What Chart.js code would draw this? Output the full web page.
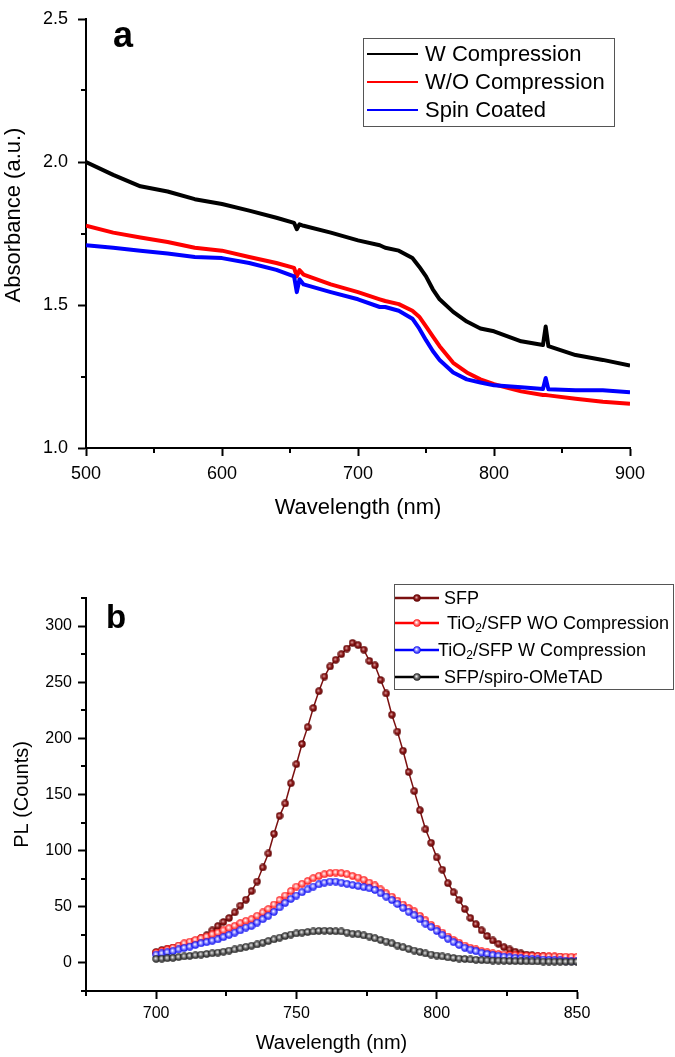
<!DOCTYPE html>
<html><head><meta charset="utf-8">
<script src="https://cdn.jsdelivr.net/npm/chart.js@4"></script>
<style>html,body{margin:0;padding:0;background:#fff;}canvas{display:block;}</style>
</head><body>
<canvas id="c1" width="675" height="530"></canvas>
<canvas id="c2" width="675" height="527"></canvas>
<script>
// ---------- Panel a : absorbance ----------
const absWavelength = [500,520,540,560,580,600,620,640,653,655,657,660,680,700,716,720,730,740,745,750,755,760,770,780,790,800,820,836,838,840,860,880,900];
const absWCompression = [2.00,1.955,1.915,1.897,1.87,1.853,1.83,1.805,1.787,1.765,1.782,1.777,1.753,1.726,1.709,1.70,1.69,1.664,1.634,1.60,1.555,1.52,1.476,1.442,1.418,1.408,1.373,1.36,1.425,1.356,1.325,1.308,1.288];
const absWOCompression = [1.777,1.753,1.736,1.72,1.70,1.69,1.668,1.647,1.63,1.60,1.622,1.606,1.572,1.545,1.52,1.514,1.503,1.48,1.459,1.425,1.39,1.356,1.298,1.264,1.24,1.223,1.198,1.185,1.185,1.184,1.172,1.162,1.155];
const absSpinCoated = [1.709,1.70,1.69,1.68,1.668,1.664,1.647,1.623,1.60,1.545,1.59,1.572,1.545,1.52,1.493,1.493,1.48,1.452,1.418,1.377,1.339,1.308,1.264,1.24,1.229,1.219,1.212,1.206,1.245,1.205,1.202,1.202,1.195];
const absLabels = ['W Compression','W/O Compression','Spin Coated'];
const absXTicks = [500,600,700,800,900];
const absXMinor = [550,650,750,850];
const absYTicks = [1.0,1.5,2.0,2.5];
const absYMinor = [1.25,1.75,2.25];

// ---------- Panel b : photoluminescence ----------
const plWavelength = [700,702,704,706,708,710,712,714,716,718,720,722,724,726,728,730,732,734,736,738,740,742,744,746,748,750,752,754,756,758,760,762,764,766,768,770,772,774,776,778,780,782,784,786,788,790,792,794,796,798,800,802,804,806,808,810,812,814,816,818,820,822,824,826,828,830,832,834,836,838,840,842,844,846,848,850];
const plSFP = [9.8,11.5,12.7,13.7,14.8,16,18,19.7,22,24.7,29,32.8,36.5,40,45,51,56.3,64,72.5,85,97.5,115,131,142,160,177,195,210,227,242,255,264,270,275,280,285,283,279,269,265,252,240,221,206,189,170,153,136,119,107,94,83,71,63,56,48,40,34.5,29,24,20,17,14,12,10,8.5,7.5,6.8,6.2,5.8,5.5,5.2,5,4.8,4.6,4.5];
const plTiO2WO = [9,10.5,12,13.5,15.5,17.5,19,20.5,22,23.5,25.5,27,29,31,33,35.5,37.5,39,42,45,48,52,56,60,64,68,70.5,73,75.5,77.5,79,80,80.5,80,79,77.5,76,74,71.5,69,65.5,62,59,55.5,52,49,46,42,38,34,30.5,27,23.5,20.5,18,15.5,13.5,12,10.5,9.5,8.5,8,7.5,7,6.8,6.5,6.3,6.2,6,6,5.8,5.8,5.7,5.6,5.5,5.5];
const plTiO2W = [7.5,8.5,9.5,10.5,12,13.3,14.5,16,17.5,18.5,19.8,21,23,25,27,29,31.5,33,36,39,42,45.5,49.5,53.5,57,60,63,65.5,68,70,71.5,72.5,72.5,71.5,70.5,69.5,68.5,67.5,66.5,65,62,59,56,52.5,49,45.5,42.5,39,35,32,28.5,25,21.5,18.5,16,13.5,11.8,10.5,9,8,7,6.3,5.6,5,4.6,4.2,3.8,3.5,3.2,3,2.7,2.4,2.2,2,1.6,1.5];
const plSpiro = [3.6,3.8,4.2,4.6,5.2,5.8,6.3,6.8,7.4,8,8.6,9.2,10,11,12,13,14.3,15.3,16.5,18,19.5,21,22.5,24,25.3,26.3,27,27.5,28,28.5,28.7,28.5,28.2,28,27,26,25.5,24.5,23.5,22,20.5,19,17.5,15.5,14,12.5,11,9.8,8.5,7.5,6.6,5.8,5,4.4,3.9,3.5,3.1,2.8,2.5,2.3,2.1,2,1.9,1.7,1.6,1.5,1.4,1.3,1.3,1.2,1.2,1.1,1.1,1,1,1];
const plLabels = ['SFP','TiO₂/SFP WO Compression','TiO₂/SFP W Compression','SFP/spiro-OMeTAD'];
const plXTicks = [700,750,800,850];
const plXMinor = [675,725,775,825];
const plYTicks = [0,50,100,150,200,250,300];
const plYMinor = [-25,25,75,125,175,225,275,325];

const FONT = "'Liberation Sans', Arial, Helvetica, sans-serif";

function pts(xs, ys){ return xs.map((x,i)=>({x:x, y:ys[i]})); }

function makeBall(edge, mid, core){
  const c = document.createElement('canvas'); c.width = 8; c.height = 8;
  const g = c.getContext('2d');
  const gr = g.createRadialGradient(3.3,3.3,0.2,4,4,3.8);
  gr.addColorStop(0, core); gr.addColorStop(0.45, mid); gr.addColorStop(1, edge);
  g.fillStyle = gr; g.beginPath(); g.arc(4,4,3.7,0,Math.PI*2); g.fill();
  return c;
}

const minorTicksPlugin = {
  id:'minorTicks',
  afterDraw(chart, args, opts){
    const ctx = chart.ctx, ca = chart.chartArea;
    const xs = chart.scales.x, ys = chart.scales.y;
    ctx.save(); ctx.strokeStyle = '#000'; ctx.lineWidth = 2;
    (opts.x||[]).forEach(v=>{ const p = Math.round(xs.getPixelForValue(v));
      ctx.beginPath(); ctx.moveTo(p, ca.bottom); ctx.lineTo(p, ca.bottom+5); ctx.stroke(); });
    (opts.y||[]).forEach(v=>{ const p = Math.round(ys.getPixelForValue(v));
      ctx.beginPath(); ctx.moveTo(ca.left, p); ctx.lineTo(ca.left-5, p); ctx.stroke(); });
    ctx.restore();
  }
};

function drawRich(ctx, text, x, y, size){
  const parts = text.split('₂');
  let cx = x;
  parts.forEach((p,i)=>{
    ctx.font = size+'px '+FONT; ctx.fillText(p, cx, y); cx += ctx.measureText(p).width;
    if (i < parts.length-1){
      ctx.font = Math.round(size*0.65)+'px '+FONT; ctx.fillText('2', cx, y+5); cx += ctx.measureText('2').width;
    }
  });
}

const overlayPlugin = {
  id:'overlay',
  afterDraw(chart, args, o){
    const ctx = chart.ctx;
    ctx.save();
    ctx.fillStyle = '#000'; ctx.textBaseline = 'alphabetic'; ctx.textAlign = 'left';
    ctx.font = 'bold '+o.letterSize+'px '+FONT; ctx.fillText(o.letter, o.letterX, o.letterY);
    if (o.yTitle){
      ctx.save(); ctx.translate(o.yTitle.x, o.yTitle.y); ctx.rotate(-Math.PI/2);
      ctx.textAlign = 'center'; ctx.textBaseline = 'middle';
      ctx.font = o.yTitle.size+'px '+FONT; ctx.fillText(o.yTitle.text, 0, 0);
      ctx.restore();
    }
    const L = o.legend;
    ctx.fillStyle = '#fff'; ctx.fillRect(L.x, L.y, L.w, L.h);
    ctx.strokeStyle = '#555'; ctx.lineWidth = 1; ctx.strokeRect(L.x+0.5, L.y+0.5, L.w, L.h);
    chart.data.datasets.forEach((ds, i)=>{
      const ry = L.rows[i];
      ctx.strokeStyle = ds.borderColor; ctx.lineWidth = L.lineW;
      ctx.beginPath(); ctx.moveTo(L.lx0, ry); ctx.lineTo(L.lx1, ry); ctx.stroke();
      if (L.marker && ds.pointStyle){ ctx.drawImage(ds.pointStyle, (L.lx0+L.lx1)/2-4, ry-4); }
      ctx.fillStyle = '#000'; ctx.textBaseline = 'middle'; ctx.textAlign = 'left';
      drawRich(ctx, ds.label, L.tx[i], ry+1, L.size);
    });
    ctx.restore();
  }
};

function axisCommon(size, pad, tickLen, cb){
  const t = {color:'#000', font:{family:FONT, size:size, lineHeight:1}, padding:pad, maxRotation:0, autoSkip:false};
  if (cb) t.callback = cb;
  return {
    grid:{drawOnChartArea:false, drawTicks:true, tickLength:tickLen, tickWidth:2, tickColor:'#000'},
    border:{display:true, color:'#000', width:2},
    ticks:t
  };
}

// ---------- Chart a ----------
const ax = axisCommon(18, 9, 8), ay = axisCommon(18, 10, 8, v => Number(v).toFixed(1));
new Chart(document.getElementById('c1'), {
  type:'line',
  data:{datasets:[
    {label:absLabels[0], data:pts(absWavelength, absWCompression), borderColor:'#000000', borderWidth:4, borderJoinStyle:'round', pointRadius:0, order:3},
    {label:absLabels[1], data:pts(absWavelength, absWOCompression), borderColor:'#ff0000', borderWidth:4, borderJoinStyle:'round', pointRadius:0, order:2},
    {label:absLabels[2], data:pts(absWavelength, absSpinCoated), borderColor:'#0000ff', borderWidth:4, borderJoinStyle:'round', pointRadius:0, order:1}
  ]},
  options:{
    responsive:false, animation:false, devicePixelRatio:1,
    layout:{padding:{left:0, right:45, top:9, bottom:9}},
    plugins:{legend:{display:false}, tooltip:{enabled:false},
      minorTicks:{x:absXMinor, y:absYMinor},
      overlay:{letter:'a', letterSize:36, letterX:113, letterY:47,
        yTitle:{text:'Absorbance (a.u.)', x:14, y:215, size:22},
        legend:{x:363, y:38, w:251, h:88, rows:[54,82,110], lx0:367, lx1:418, lineW:2, marker:false, tx:[425,425,425], size:22}}},
    scales:{
      x:Object.assign({type:'linear', min:500, max:900,
        afterBuildTicks:s=>{ s.ticks = absXTicks.map(v=>({value:v})); },
        afterFit:s=>{ s.height = 73; },
        title:{display:true, text:'Wavelength (nm)', color:'#000', font:{family:FONT, size:22}, padding:0}}, ax),
      y:Object.assign({type:'linear', min:1.0, max:2.5,
        afterBuildTicks:s=>{ s.ticks = absYTicks.map(v=>({value:v})); },
        afterFit:s=>{ s.width = 86; },
        title:{display:false}}, ay)
    }
  },
  plugins:[minorTicksPlugin, overlayPlugin]
});

// ---------- Chart b ----------
const bx = axisCommon(16, 7, 8), by = axisCommon(16, 6, 8);
const ballSFP = makeBall('#5a0000', '#8e1c1c', '#e0a8a8');
const ballRed = makeBall('#ff0000', '#ff8a8a', '#ffffff');
const ballBlue = makeBall('#0000f0', '#7f7fff', '#ffffff');
const ballBlack = makeBall('#111111', '#777777', '#f0f0f0');
new Chart(document.getElementById('c2'), {
  type:'line',
  data:{datasets:[
    {label:plLabels[0], data:pts(plWavelength, plSFP), borderColor:'#7b1010', borderWidth:1.5, pointStyle:ballSFP, pointRadius:4, order:4},
    {label:plLabels[1], data:pts(plWavelength, plTiO2WO), borderColor:'#ff0000', borderWidth:1.5, pointStyle:ballRed, pointRadius:4, order:3},
    {label:plLabels[2], data:pts(plWavelength, plTiO2W), borderColor:'#0000ff', borderWidth:1.5, pointStyle:ballBlue, pointRadius:4, order:2},
    {label:plLabels[3], data:pts(plWavelength, plSpiro), borderColor:'#000000', borderWidth:1.5, pointStyle:ballBlack, pointRadius:4, order:1}
  ]},
  options:{
    responsive:false, animation:false, devicePixelRatio:1,
    layout:{padding:{left:10, right:98, top:68, bottom:2}},
    plugins:{legend:{display:false}, tooltip:{enabled:false},
      minorTicks:{x:plXMinor, y:plYMinor},
      overlay:{letter:'b', letterSize:33, letterX:106, letterY:98,
        legend:{x:394, y:54, w:279, h:105, rows:[68,93,120,147], lx0:395, lx1:439, lineW:2.5, marker:true, tx:[444,447,438,444], size:18}}},
    scales:{
      x:Object.assign({type:'linear', min:675, max:850,
        afterBuildTicks:s=>{ s.ticks = plXTicks.map(v=>({value:v})); },
        afterFit:s=>{ s.height = 64; },
        title:{display:true, text:'Wavelength (nm)', color:'#000', font:{family:FONT, size:20}, padding:0}}, bx),
      y:Object.assign({type:'linear', min:-25, max:325,
        afterBuildTicks:s=>{ s.ticks = plYTicks.map(v=>({value:v})); },
        afterFit:s=>{ s.width = 76; },
        title:{display:true, text:'PL (Counts)', color:'#000', font:{family:FONT, size:20}, padding:0}}, by)
    }
  },
  plugins:[minorTicksPlugin, overlayPlugin]
});
</script>
</body></html>
